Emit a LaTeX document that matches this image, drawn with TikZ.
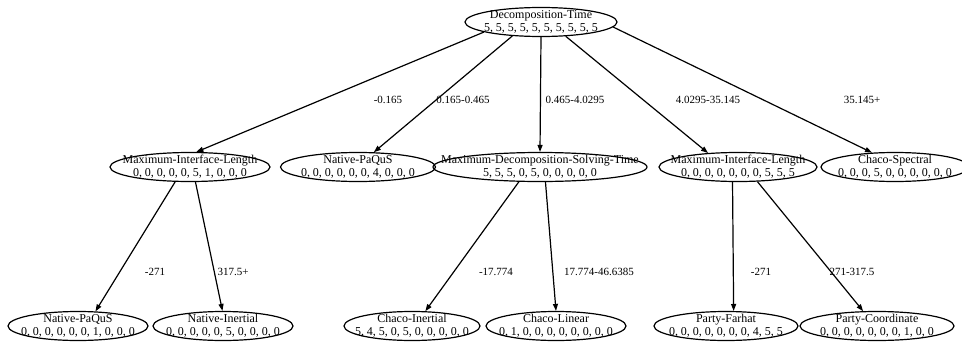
\documentclass[tikz,border=0pt]{standalone}
\usepackage{fontspec}
\setmainfont{Liberation Serif}
\usetikzlibrary{arrows.meta,shapes.geometric}
\newcommand{\dist}[2]{\makebox[0pt]{\smash{\raisebox{-3pt}{\begin{tabular}{@{}c@{}}#1\\#2\end{tabular}}}}}

\begin{document}
\begin{tikzpicture}[
  x=1pt, y=-1pt,
  tnode/.style={draw, ellipse, line width=1.2pt, inner sep=0pt, minimum height=29pt, font=\fontsize{12}{13}\selectfont},
  elbl/.style={font=\fontsize{11}{12}\selectfont, inner sep=0pt},
  arr/.style={line width=1.2pt, -{Triangle[length=7pt,width=5pt]}}
]
\useasboundingbox (0,0) rectangle (962,351);
% root
\node[tnode, minimum width=152pt] (root) at (541,22) {\dist{Decomposition-Time}{5, 5, 5, 5, 5, 5, 5, 5, 5, 5}};
% second level
\node[tnode, minimum width=160pt] (mil) at (190,167) {\dist{Maximum-Interface-Length}{0, 0, 0, 0, 0, 5, 1, 0, 0, 0}};
\node[tnode, minimum width=155pt] (npq) at (358,167) {\dist{Native-PaQuS}{0, 0, 0, 0, 0, 0, 4, 0, 0, 0}};
\node[tnode, minimum width=214pt] (mdst) at (540,167) {\dist{Maximum-Decomposition-Solving-Time}{5, 5, 5, 0, 5, 0, 0, 0, 0, 0}};
\node[tnode, minimum width=158pt] (mil2) at (738,167) {\dist{Maximum-Interface-Length}{0, 0, 0, 0, 0, 0, 0, 5, 5, 5}};
\node[tnode, minimum width=148pt] (chs) at (895,167) {\dist{Chaco-Spectral}{0, 0, 0, 5, 0, 0, 0, 0, 0, 0}};
% leaves
\node[tnode, minimum width=140pt] (npq2) at (78,326) {\dist{Native-PaQuS}{0, 0, 0, 0, 0, 0, 1, 0, 0, 0}};
\node[tnode, minimum width=140pt] (nin) at (223,326) {\dist{Native-Inertial}{0, 0, 0, 0, 0, 5, 0, 0, 0, 0}};
\node[tnode, minimum width=136pt] (chi) at (412,326) {\dist{Chaco-Inertial}{5, 4, 5, 0, 5, 0, 0, 0, 0, 0}};
\node[tnode, minimum width=140pt] (chl) at (556,326) {\dist{Chaco-Linear}{0, 1, 0, 0, 0, 0, 0, 0, 0, 0}};
\node[tnode, minimum width=144pt] (pf) at (726,326) {\dist{Party-Farhat}{0, 0, 0, 0, 0, 0, 0, 4, 5, 5}};
\node[tnode, minimum width=154pt] (pc) at (877,326) {\dist{Party-Coordinate}{0, 0, 0, 0, 0, 0, 0, 1, 0, 0}};
% edge labels
\node[elbl] (l1) at (388,100) {-0.165};
\node[elbl] (l2) at (463,100) {0.165-0.465};
\node[elbl] (l3) at (575,100) {0.465-4.0295};
\node[elbl] (l4) at (708,100) {4.0295-35.145};
\node[elbl] (l5) at (862,100) {35.145+};
\node[elbl] (l6) at (155,272) {-271};
\node[elbl] (l7) at (233,272) {317.5+};
\node[elbl] (l8) at (496,272) {-17.774};
\node[elbl] (l9) at (599,272) {17.774-46.6385};
\node[elbl] (l10) at (761,272) {-271};
\node[elbl] (l11) at (852,272) {271-317.5};
% connectors, border angles
\foreach \a/\sa/\b/\eb in {root/190/mil/67, root/206/npq/43, root/270/mdst/90, root/330/mil2/155, root/356/chs/148,
  mil/225/npq2/40, mil/290/nin/92, mdst/215/chi/48, mdst/290/chl/90, mil2/250/pf/63, mil2/323/pc/133}
  \draw[arr] (\a.\sa) -- (\b.\eb);
\end{tikzpicture}
\end{document}
